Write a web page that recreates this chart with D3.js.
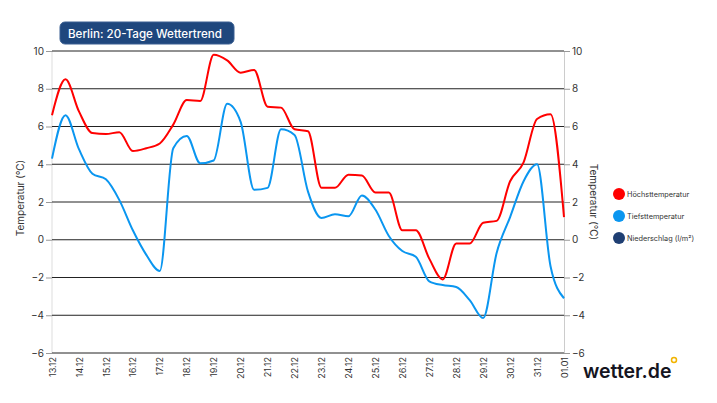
<!doctype html>
<html>
<head>
<script src="https://d3js.org/d3.v7.min.js"></script>
<style>
  body { margin: 0; background: #fff; }
  text { font-family: Inter, "Noto Sans", sans-serif; }
</style>
</head>
<body>
<svg id="chart" width="717" height="403"></svg>
<script>
// tage (labels) - 2 werte pro tag, letzter wert am 01.01
var days = ["13.12","14.12","15.12","16.12","17.12","18.12","19.12","20.12","21.12","22.12",
            "23.12","24.12","25.12","26.12","27.12","28.12","29.12","30.12","31.12","01.01"];

var hoechst = [6.6, 8.5, 6.8, 5.65, 5.6, 5.7, 4.7, 4.85, 5.1, 6.1,
               7.4, 7.35, 9.8, 9.5, 8.85, 9.0, 7.05, 7.0, 5.85, 5.75,
               2.75, 2.75, 3.45, 3.4, 2.5, 2.5, 0.5, 0.5, -1.0, -2.1,
               -0.2, -0.2, 0.9, 1.0, 3.1, 4.1, 6.4, 6.65, 1.2];

var tiefst = [4.3, 6.6, 4.8, 3.5, 3.2, 2.1, 0.5, -0.8, -1.65, 4.85,
              5.5, 4.05, 4.2, 7.2, 6.25, 2.65, 2.75, 5.85, 5.55, 2.55,
              1.15, 1.35, 1.25, 2.35, 1.6, 0.2, -0.6, -0.9, -2.2, -2.4,
              -2.5, -3.2, -4.15, -0.7, 1.2, 3.1, 4.0, -1.4, -3.1];

var yTicks = [-6, -4, -2, 0, 2, 4, 6, 8, 10];

var legendNames = ["Höchsttemperatur", "Tiefsttemperatur", "Niederschlag (l/m²)"];
var legendColors = ["#ff0000", "#0a96f0", "#1f3f73"];

var svg = d3.select("#chart");

var x = d3.scaleLinear().domain([0, hoechst.length - 1]).range([52, 564]);
var y = d3.scaleLinear().domain([-6, 10]).range([353, 51]);

// vertikale achsenlinien
svg.append("line").attr("x1", 52).attr("x2", 52).attr("y1", 51).attr("y2", 353)
  .attr("stroke", "#ddd");
svg.append("line").attr("x1", 564.5).attr("x2", 564.5).attr("y1", 51).attr("y2", 353)
  .attr("stroke", "#ccc");

// gitterlinien
svg.selectAll(".grid")
  .data(yTicks)
  .enter()
  .append("line")
  .attr("x1", 52)
  .attr("x2", 564)
  .attr("y1", d => y(d))
  .attr("y2", d => y(d))
  .attr("stroke", "#222")
  .attr("stroke-width", 1);

// linke achse
var left = svg.append("g").attr("transform", "translate(52,0)")
  .call(d3.axisLeft(y).tickValues(yTicks).tickSize(6).tickPadding(2));
left.select(".domain").remove();
left.selectAll(".tick line").attr("stroke", "#999");
left.selectAll("text").attr("fill", "#333").style("font-size", "10px");

// rechte achse
var right = svg.append("g").attr("transform", "translate(564,0)")
  .call(d3.axisRight(y).tickValues(yTicks).tickSize(6).tickPadding(2));
right.select(".domain").remove();
right.selectAll(".tick line").attr("stroke", "#999");
right.selectAll("text").attr("fill", "#333").style("font-size", "10px");

// x labels, gedreht
var xAxis = svg.append("g").attr("transform", "translate(0,353)")
  .call(d3.axisBottom(x).tickValues(d3.range(0, hoechst.length, 2))
        .tickFormat(d => days[d / 2]).tickSize(0));
xAxis.select(".domain").remove();
xAxis.selectAll("text")
  .attr("fill", "#333")
  .style("font-size", "9px")
  .attr("text-anchor", "end")
  .attr("transform", "rotate(-90)")
  .attr("x", -4)
  .attr("y", 0)
  .attr("dy", "0.35em");

// achsentitel
svg.append("text")
  .attr("transform", "translate(24,198) rotate(-90)")
  .attr("text-anchor", "middle")
  .attr("fill", "#333")
  .style("font-size", "10px")
  .text("Temperatur (°C)");
svg.append("text")
  .attr("transform", "translate(590,202) rotate(90)")
  .attr("text-anchor", "middle")
  .attr("fill", "#333")
  .style("font-size", "10px")
  .text("Temperatur (°C)");

// linien
var line = d3.line()
  .x((d, i) => x(i))
  .y(d => y(d))
  .curve(d3.curveMonotoneX);

svg.append("path").datum(tiefst)
  .attr("d", line).attr("fill", "none")
  .attr("stroke", legendColors[1]).attr("stroke-width", 2);
svg.append("path").datum(hoechst)
  .attr("d", line).attr("fill", "none")
  .attr("stroke", legendColors[0]).attr("stroke-width", 2);

// legende
var legend = svg.selectAll(".legend")
  .data(legendNames)
  .enter()
  .append("g")
  .attr("transform", (d, i) => "translate(619," + (194 + i * 22) + ")");
legend.append("circle").attr("r", 6).attr("fill", (d, i) => legendColors[i]);
legend.append("text")
  .attr("x", 8).attr("dy", "0.35em")
  .attr("fill", "#333")
  .style("font-size", "7.3px")
  .text(d => d);

// titel box
svg.append("rect")
  .attr("x", 60).attr("y", 22).attr("width", 174).attr("height", 22)
  .attr("rx", 5)
  .attr("fill", "#1f477d")
  .attr("stroke", "#3a5f92");
svg.append("text")
  .attr("x", 68).attr("y", 37.5)
  .attr("fill", "#fff")
  .style("font-size", "11.6px")
  .style("font-weight", "500")
  .text("Berlin: 20-Tage Wettertrend");

// logo
svg.append("text")
  .attr("x", 583).attr("y", 378)
  .attr("fill", "#15151f")
  .style("font-size", "19.5px")
  .style("font-weight", "600")
  .text("wetter.de");
svg.append("circle")
  .attr("cx", 674).attr("cy", 360).attr("r", 2.5)
  .attr("fill", "none").attr("stroke", "#f2b400").attr("stroke-width", 1.5);
</script>
</body>
</html>
